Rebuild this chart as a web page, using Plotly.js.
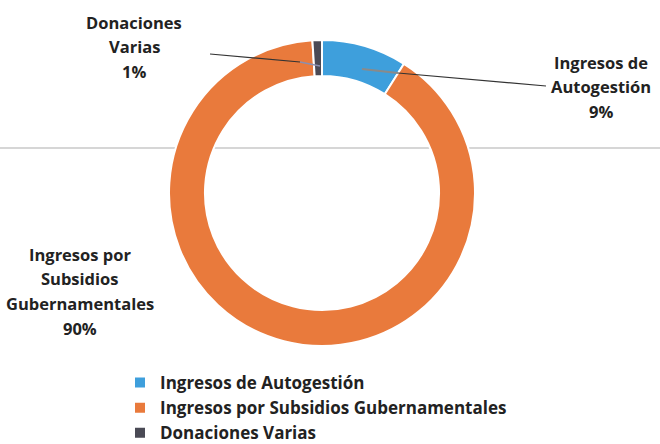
<!DOCTYPE html>
<html>
<head>
<meta charset="utf-8">
<script src="https://cdn.plot.ly/plotly-3.0.1.min.js"></script>
<style>html,body{margin:0;padding:0;background:#fff;}#chart{width:660px;height:444px;}</style>
</head>
<body>
<div id="chart"></div>
<script>
const categories = ["Ingresos de Autogestión", "Ingresos por Subsidios Gubernamentales", "Donaciones Varias"];
const values = [9, 90, 1];
const sliceLabels = ["Ingresos de<br>Autogestión<br>9%", "Ingresos por<br>Subsidios<br>Gubernamentales<br>90%", "Donaciones<br>Varias<br>1%"];
const colors = ["#3e9fdc", "#e97a3c", "#4a4a55"];

const W = 660, H = 444;
const px = x => x / W;
const py = y => 1 - y / H;

const trace = {
  type: "pie",
  labels: categories,
  values: values,
  sort: false,
  direction: "clockwise",
  rotation: 0,
  hole: 0.765,
  textinfo: "none",
  hoverinfo: "label+percent",
  marker: { colors: colors, line: { color: "#ffffff", width: 2 } },
  domain: { x: [px(169), px(475)], y: [py(346), py(40)] },
  showlegend: true
};

const labelFont = { family: "Open Sans, sans-serif", size: 16.5, color: "#222", weight: 700 };

// label anchors: [center x, first line y]
const labelPos = [[601, 62], [80, 254], [134, 22]];
const lineGap = 24.7;
const annotations = [];
sliceLabels.forEach((t, i) => {
  t.split("<br>").forEach((line, j) => {
    annotations.push({
      xref: "paper", yref: "paper",
      x: px(labelPos[i][0]), y: py(labelPos[i][1] + j * lineGap),
      xanchor: "center", yanchor: "middle", showarrow: false,
      text: line, font: labelFont
    });
  });
});

const shapes = [
  { type: "line", xref: "paper", yref: "paper", x0: 0, x1: 1, y0: py(148), y1: py(148), line: { color: "#c8c8c8", width: 1.5 }, layer: "below" },
  { type: "line", xref: "paper", yref: "paper", x0: px(210), y0: py(54), x1: px(300), y1: py(62), line: { color: "#333", width: 1.2 } },
  { type: "line", xref: "paper", yref: "paper", x0: px(300), y0: py(62), x1: px(320), y1: py(66), line: { color: "#8a8fb0", width: 1.5 } },
  { type: "line", xref: "paper", yref: "paper", x0: px(362), y0: py(69), x1: px(398), y1: py(73), line: { color: "#8a8a8a", width: 2 } },
  { type: "line", xref: "paper", yref: "paper", x0: px(398), y0: py(73), x1: px(546), y1: py(86), line: { color: "#333", width: 1.2 } }
];

const layout = {
  width: W, height: H,
  margin: { l: 0, r: 0, t: 0, b: 0, autoexpand: false },
  paper_bgcolor: "#ffffff",
  plot_bgcolor: "#ffffff",
  showlegend: true,
  legend: {
    x: px(120), y: py(365), xanchor: "left", yanchor: "top",
    orientation: "v",
    font: { family: "Open Sans, sans-serif", size: 17, color: "#222", weight: 700 },
    bgcolor: "rgba(0,0,0,0)",
    traceorder: "normal"
  },
  annotations: annotations,
  shapes: shapes
};

Plotly.newPlot("chart", [trace], layout, { displayModeBar: false, staticPlot: true });
</script>
</body>
</html>
